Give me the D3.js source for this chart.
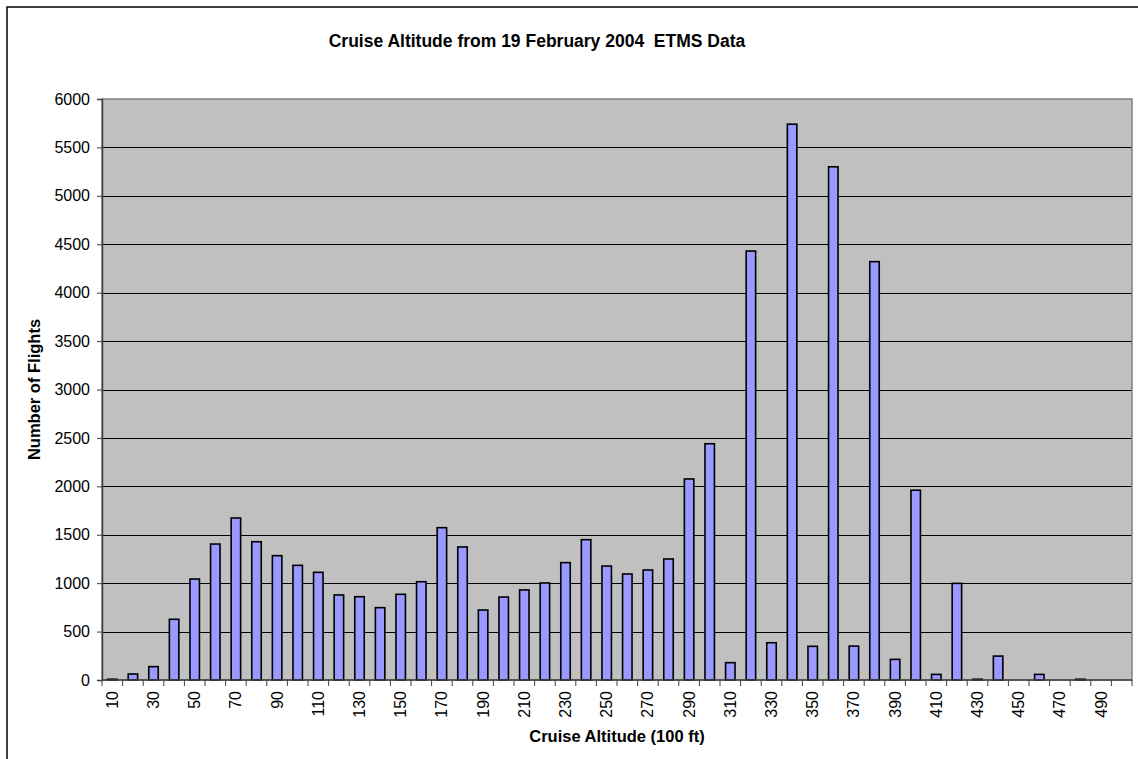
<!DOCTYPE html>
<html>
<head>
<meta charset="utf-8">
<script src="https://cdn.jsdelivr.net/npm/d3@7"></script>
<style>
  body { margin: 0; background: #fff; }
  svg text { font-family: "Liberation Sans", Arial, sans-serif; fill: #000; }
</style>
</head>
<body>
<div id="chart"></div>
<script>
// altitude bins (100 ft) and flight counts
var altitudes = d3.range(10, 501, 10);
var flights = [8, 62, 138, 627, 1043, 1404, 1673, 1428, 1284, 1184,
  1112, 878, 860, 747, 885, 1015, 1573, 1374, 723, 857,
  930, 1002, 1212, 1449, 1177, 1095, 1136, 1250, 2076, 2440,
  179, 4430, 385, 5740, 348, 5300, 350, 4320, 213, 1960,
  58, 998, 8, 247, 0, 58, 0, 8, 0, 0];
var yTicks = [0, 500, 1000, 1500, 2000, 2500, 3000, 3500, 4000, 4500, 5000, 5500, 6000];
var xLabels = altitudes.filter(function(d, i) { return i % 2 === 0; });

var data = altitudes.map(function(a, i) { return { alt: a, count: flights[i] }; });

var svgWidth = 1138, svgHeight = 759;
var chartMargin = { top: 99, right: 6, bottom: 79, left: 102 };
var chartWidth = svgWidth - chartMargin.left - chartMargin.right;
var chartHeight = svgHeight - chartMargin.top - chartMargin.bottom;

var svg = d3.select("#chart")
  .append("svg")
  .attr("width", svgWidth)
  .attr("height", svgHeight);

// outer chart frame
svg.append("rect")
  .attr("x", 7).attr("y", 7)
  .attr("width", 1140).attr("height", 760)
  .attr("fill", "none")
  .attr("stroke", "#000")
  .attr("stroke-width", 1.5);

var chartGroup = svg.append("g")
  .attr("transform", `translate(${chartMargin.left}, ${chartMargin.top})`);

var xBandScale = d3.scaleBand()
  .domain(altitudes)
  .range([0, chartWidth])
  .paddingInner(0.54)
  .paddingOuter(0.27);

var yLinearScale = d3.scaleLinear()
  .domain([0, 6000])
  .range([chartHeight, 0]);

// plot background
chartGroup.append("rect")
  .attr("width", chartWidth)
  .attr("height", chartHeight)
  .attr("fill", "#c0c0c0");

// gridlines
chartGroup.append("g").selectAll("line")
  .data(yTicks.slice(1, -1))
  .enter()
  .append("line")
  .attr("x1", 0).attr("x2", chartWidth)
  .attr("y1", d => Math.round(yLinearScale(d)) + 0.5)
  .attr("y2", d => Math.round(yLinearScale(d)) + 0.5)
  .attr("stroke", "#000")
  .attr("stroke-width", 1);

// plot border
chartGroup.append("rect")
  .attr("width", chartWidth)
  .attr("height", chartHeight)
  .attr("fill", "none")
  .attr("stroke", "#808080")
  .attr("stroke-width", 1.5);

// bars
chartGroup.append("g").selectAll("rect")
  .data(data)
  .enter()
  .append("rect")
  .attr("x", d => xBandScale(d.alt))
  .attr("y", d => yLinearScale(d.count))
  .attr("width", xBandScale.bandwidth())
  .attr("height", d => chartHeight - yLinearScale(d.count))
  .attr("fill", "#9999ff")
  .attr("stroke", d => d.count > 0 ? "#000" : "none")
  .attr("stroke-width", 1.6);

// y axis
var leftAxis = d3.axisLeft(yLinearScale)
  .tickValues(yTicks)
  .tickSize(5)
  .tickPadding(7)
  .tickFormat(d3.format("d"));

var yAxis = chartGroup.append("g").call(leftAxis);
yAxis.select(".domain").attr("stroke", "#404040").attr("stroke-width", 1.5);
yAxis.selectAll(".tick line").attr("stroke", "#404040");
yAxis.selectAll("text")
  .style("font-size", "16px")
  .style("font-family", "'Liberation Sans', Arial, sans-serif");

// x axis: boundary ticks between categories
var step = xBandScale.step();
var offset = (step - xBandScale.bandwidth()) / 2;
var xAxisGroup = chartGroup.append("g")
  .attr("transform", `translate(0, ${chartHeight})`);

xAxisGroup.append("line")
  .attr("x1", 0).attr("x2", chartWidth)
  .attr("y1", 0).attr("y2", 0)
  .attr("stroke", "#404040")
  .attr("stroke-width", 1.5);

xAxisGroup.selectAll(".bound")
  .data(altitudes.concat([null]))
  .enter()
  .append("line")
  .attr("class", "bound")
  .attr("x1", (d, i) => i < altitudes.length ? xBandScale(d) - offset : chartWidth)
  .attr("x2", (d, i) => i < altitudes.length ? xBandScale(d) - offset : chartWidth)
  .attr("y1", 0).attr("y2", 6)
  .attr("stroke", "#404040");

// x tick labels, rotated
xAxisGroup.selectAll(".xlabel")
  .data(xLabels)
  .enter()
  .append("text")
  .attr("class", "xlabel")
  .attr("transform", d => `translate(${xBandScale(d) + xBandScale.bandwidth() / 2 + 5.5}, 11) rotate(-90)`)
  .attr("text-anchor", "end")
  .style("font-size", "16px")
  .text(d => d);

// axis titles
chartGroup.append("text")
  .attr("x", chartWidth / 2)
  .attr("y", chartHeight + 62)
  .attr("text-anchor", "middle")
  .style("font-size", "16.5px")
  .style("font-weight", "bold")
  .text("Cruise Altitude (100 ft)");

chartGroup.append("text")
  .attr("transform", "rotate(-90)")
  .attr("x", -(chartHeight / 2))
  .attr("y", -62)
  .attr("text-anchor", "middle")
  .style("font-size", "16.5px")
  .style("font-weight", "bold")
  .text("Number of Flights");

// chart title
svg.append("text")
  .attr("x", 537)
  .attr("y", 47)
  .attr("text-anchor", "middle")
  .style("font-size", "17.5px")
  .style("font-weight", "bold")
  .style("white-space", "pre")
  .attr("xml:space", "preserve")
  .text("Cruise Altitude from 19 February 2004  ETMS Data");
</script>
</body>
</html>
